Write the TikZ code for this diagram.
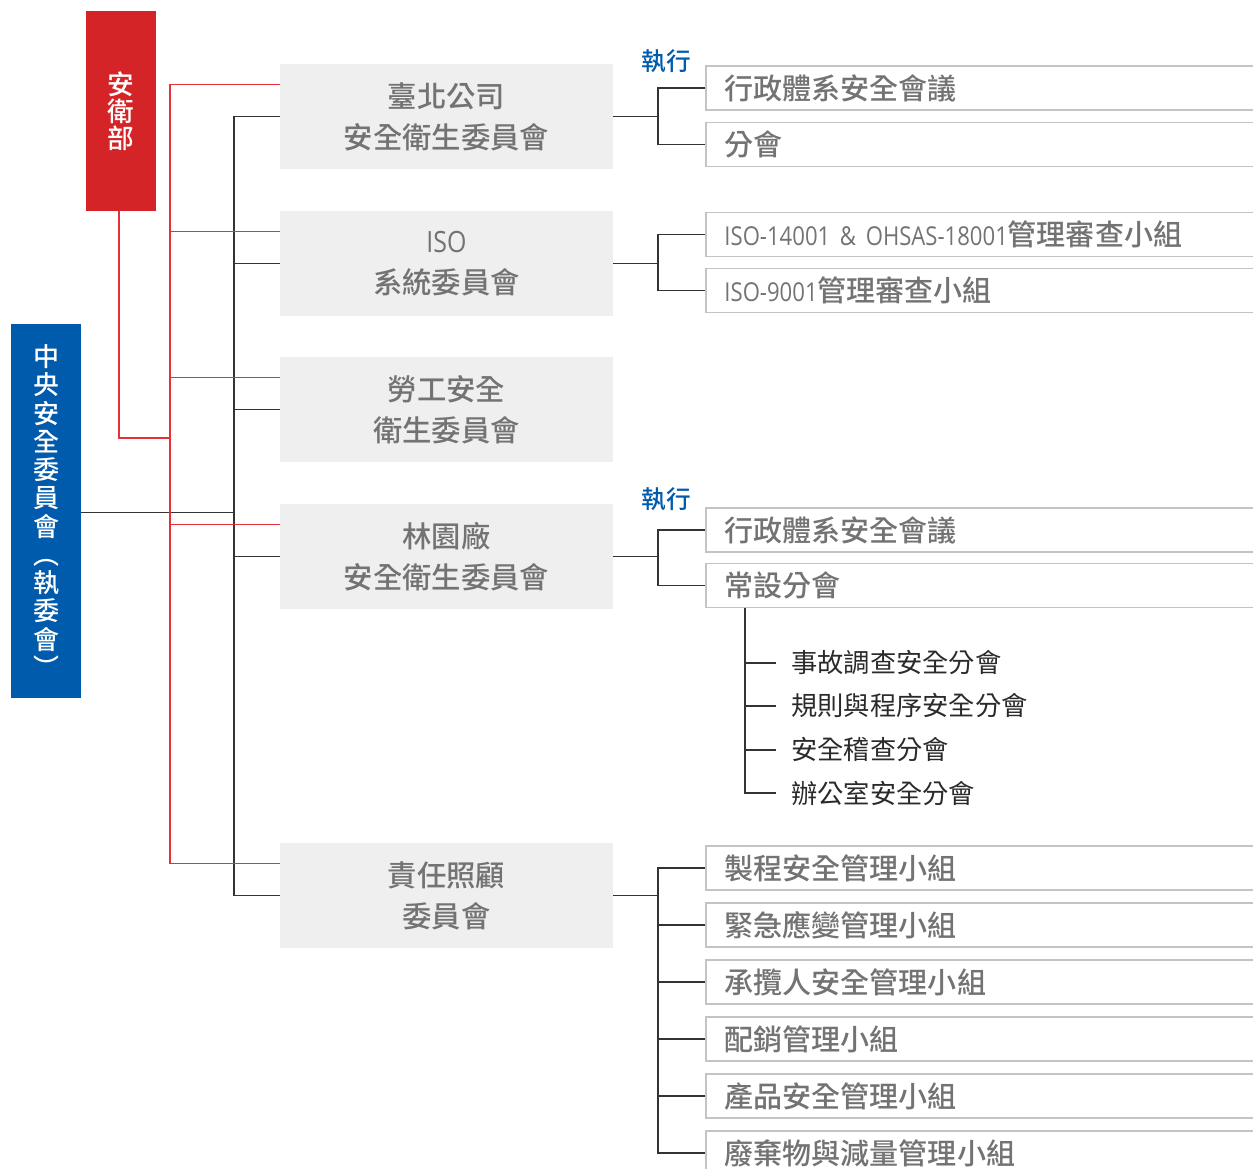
\documentclass[tikz,border=0pt]{standalone}
\usepackage{fontspec}
\newfontfamily\cjk{Noto Sans CJK TC}
\newfontfamily\cjkm{Noto Sans CJK TC Medium}
\newfontfamily\lat{Open Sans}[FakeStretch=0.85]
\usetikzlibrary{calc}
\definecolor{redbox}{HTML}{D52427}
\definecolor{bluebox}{HTML}{005BAC}
\definecolor{graybox}{HTML}{EFEFEF}
\definecolor{graytext}{HTML}{737373}
\definecolor{rborder}{HTML}{C4C4C4}
\definecolor{redline}{HTML}{E8303A}
\definecolor{blkline}{HTML}{333333}
\definecolor{subtext}{HTML}{2A2A2A}
\begin{document}
\begin{tikzpicture}[x=0.75pt,y=-0.75pt,
  gbox/.style={fill=graybox, minimum width=249.75pt, minimum height=78.75pt, inner sep=0pt, align=center, text=graytext, font=\cjkm\fontsize{22}{30.75}\selectfont},
  rbox/.style={draw=rborder, line width=1.2pt, anchor=west, minimum height=33pt, text width=385pt, inner xsep=14pt, inner ysep=0pt, align=left, text=graytext, font=\cjkm\fontsize{21.8}{25}\selectfont},
  subitem/.style={anchor=west, inner sep=0pt, text=subtext, font=\cjk\fontsize{19.7}{22}\selectfont},
  exec/.style={inner sep=0pt, text=bluebox, font=\cjkm\fontsize{18.5}{20}\selectfont},
  vbox/.style={inner sep=0pt, align=center, text=white},
  bl/.style={draw=blkline, line width=0.8pt},
  rl/.style={draw=redline, line width=0.8pt}]
\useasboundingbox (0,0) rectangle (1253,1169);

% left boxes
\node[vbox, fill=redbox, minimum width=52.5pt, minimum height=150pt, font=\cjkm\fontsize{20}{20.25}\selectfont] (anwei) at (121,111) {安\\衛\\部};
\node[vbox, fill=bluebox, minimum width=52.5pt, minimum height=279.75pt, font=\cjkm\fontsize{19.5}{21.2}\selectfont] (cen) at (46,511) {中\\央\\安\\全\\委\\員\\會\\︵\\執\\委\\會\\︶};

% gray committee boxes
\node[gbox] (g1) at (446.5,116.5) {臺北公司\\安全衛生委員會};
\node[gbox] (g2) at (446.5,263.5) {{\lat ISO}\\系統委員會};
\node[gbox] (g3) at (446.5,409.5) {勞工安全\\衛生委員會};
\node[gbox] (g4) at (446.5,556.5) {林園廠\\安全衛生委員會};
\node[gbox] (g5) at (446.5,895.5) {責任照顧\\委員會};

% right boxes
\node[rbox] (r1a) at (705,88) {行政體系安全會議};
\node[rbox] (r1b) at (705,144.5) {分會};
\node[rbox] (r2a) at (705,234.5) {\mbox{{\lat\fontsize{19.5}{25}\selectfont ISO-14001 \& OHSAS-18001}管理審查小組}};
\node[rbox] (r2b) at (705,290.5) {\mbox{{\lat\fontsize{19.5}{25}\selectfont ISO-9001}管理審查小組}};
\node[rbox] (r4a) at (705,530) {行政體系安全會議};
\node[rbox] (r4b) at (705,585.5) {常設分會};
\node[rbox] (r5a) at (705,868) {製程安全管理小組};
\node[rbox] (r5b) at (705,925) {緊急應變管理小組};
\node[rbox] (r5c) at (705,982) {承攬人安全管理小組};
\node[rbox] (r5d) at (705,1039) {配銷管理小組};
\node[rbox] (r5e) at (705,1096) {產品安全管理小組};
\node[rbox] (r5f) at (705,1153) {廢棄物與減量管理小組};

% labels
\node[exec] (e1) at (666,61) {執行};
\node[exec] (e4) at (666,499) {執行};

% sub items
\node[subitem] (s1) at (791,663) {事故調查安全分會};
\node[subitem] (s2) at (791,706) {規則與程序安全分會};
\node[subitem] (s3) at (791,750) {安全稽查分會};
\node[subitem] (s4) at (791,793) {辦公室安全分會};

% black tree on left
\coordinate (bt) at (234,116.5);
\coordinate (bb) at (234,895.5);
\draw[bl] (g1.west) -- (bt) -- (bb) -- (g5.west);
\draw[bl] (g2.west) -- (g2.west -| bt);
\draw[bl] (g3.west) -- (g3.west -| bt);
\draw[bl] (g4.west) -- (g4.west -| bt);
\draw[bl] (cen.east |- 0,512.5) -- (bt |- 0,512.5);

% red tree
\coordinate (rt) at (170,84.5);
\coordinate (rb) at (170,863.5);
\draw[rl] ($(g1.west)+(0,-32)$) -- (rt) -- (rb) -- ($(g5.west)+(0,-32)$);
\draw[rl] ($(g2.west)+(0,-32)$) -- ($(g2.west)+(-110,-32)$);
\draw[rl] ($(g3.west)+(0,-32)$) -- ($(g3.west)+(-110,-32)$);
\draw[rl] ($(g4.west)+(0,-32)$) -- ($(g4.west)+(-110,-32)$);
\coordinate (ra) at (119,438);
\draw[rl] (anwei.south -| ra) -- (ra) -- (ra -| rt);

% right brackets
\coordinate (j1) at (658,116.5);
\draw[bl] (g1.east) -- (j1);
\draw[bl] (r1a.west) -| (j1) |- (r1b.west);
\coordinate (j2) at (658,263.5);
\draw[bl] (g2.east) -- (j2);
\draw[bl] (r2a.west) -| (j2) |- (r2b.west);
\coordinate (j4) at (658,556.5);
\draw[bl] (g4.east) -- (j4);
\draw[bl] (r4a.west) -| (j4) |- (r4b.west);
\coordinate (j5) at (658,895.5);
\draw[bl] (g5.east) -- (j5);
\draw[bl] (r5a.west) -| (j5) |- (r5f.west);
\draw[bl] (r5b.west) -- (r5b.west -| j5);
\draw[bl] (r5c.west) -- (r5c.west -| j5);
\draw[bl] (r5d.west) -- (r5d.west -| j5);
\draw[bl] (r5e.west) -- (r5e.west -| j5);

% sub list bracket
\coordinate (sv) at (745,608);
\draw[bl] (sv) |- ($(s4.west)+(-15,0)$);
\draw[bl] (s1.west -| sv) -- ($(s1.west)+(-15,0)$);
\draw[bl] (s2.west -| sv) -- ($(s2.west)+(-15,0)$);
\draw[bl] (s3.west -| sv) -- ($(s3.west)+(-15,0)$);
\end{tikzpicture}
\end{document}
